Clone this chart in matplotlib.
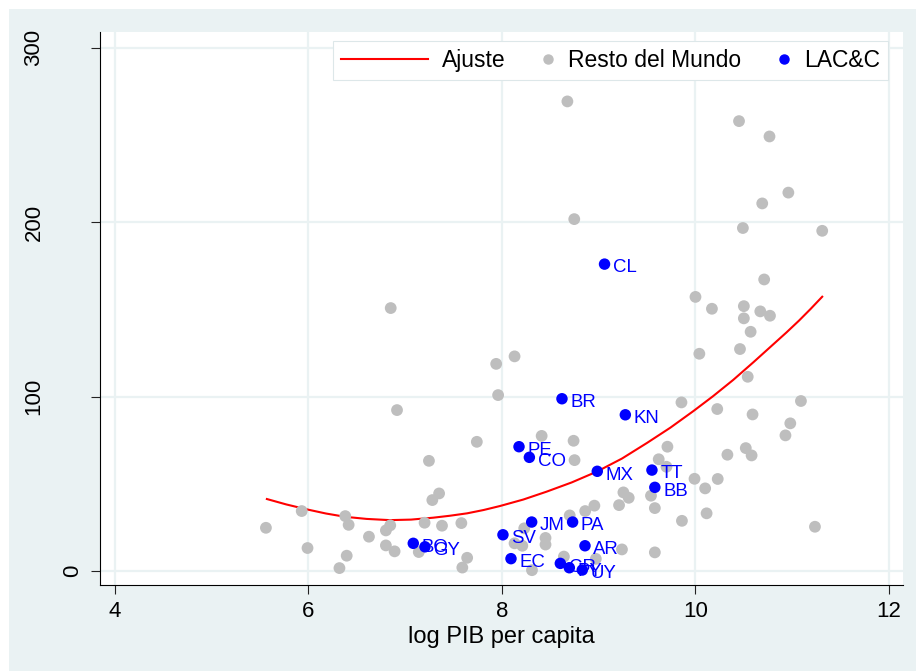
import matplotlib
matplotlib.use("Agg")
import matplotlib.pyplot as plt
from matplotlib.patches import Rectangle
from matplotlib.lines import Line2D
from matplotlib.legend_handler import HandlerBase
import matplotlib.transforms as mtransforms

plt.rcParams['font.family'] = ['Liberation Sans', 'DejaVu Sans']

# ---------------- data ----------------
rest_x = [8.676, 10.45, 10.765, 10.96, 10.69, 8.747, 10.49, 11.31, 10.71, 10.0,
          6.85, 10.17, 10.50, 10.67, 10.77, 10.50, 10.57, 10.46, 10.04, 10.54,
          8.13, 7.94, 7.96, 9.855, 11.09, 10.225, 10.59, 6.915, 10.98, 10.93,
          8.41, 8.74, 7.74, 9.71, 10.52, 10.33, 10.58, 9.62, 8.75, 7.245,
          9.70, 9.99, 10.23, 10.10, 9.255, 7.35, 9.54, 9.31, 7.28, 9.21,
          8.955, 9.58, 5.93, 8.86, 10.115, 8.70, 6.38, 9.86, 7.20, 7.58,
          6.415, 6.845, 7.38, 11.235, 8.23, 5.56, 6.80, 6.625, 8.45, 8.45,
          6.80, 8.13, 8.21, 5.99, 9.24, 6.89, 7.14, 9.58, 6.395, 8.64,
          7.64, 8.97, 6.32, 7.59, 8.31]
rest_y = [269.3, 258.0, 249.2, 217.0, 210.8, 201.8, 196.7, 195.1, 167.2, 157.2,
          150.8, 150.4, 151.9, 148.9, 146.4, 144.9, 137.2, 127.3, 124.6, 111.4,
          123.1, 118.8, 100.9, 96.7, 97.5, 92.9, 89.8, 92.3, 84.7, 77.8,
          77.5, 74.7, 74.1, 71.3, 70.5, 66.7, 66.3, 64.1, 63.6, 63.2,
          59.8, 52.9, 52.8, 47.4, 45.1, 44.5, 43.2, 42.0, 40.7, 37.8,
          37.5, 36.1, 34.4, 34.4, 33.1, 31.9, 31.5, 28.8, 27.7, 27.5,
          26.5, 26.2, 26.0, 25.4, 24.5, 24.8, 23.3, 19.7, 19.0, 15.2,
          14.7, 15.9, 14.5, 13.2, 12.4, 11.3, 10.9, 10.7, 8.8, 8.3,
          7.6, 7.0, 1.7, 2.0, 0.5]

lac_codes = ["CL", "BR", "KN", "PE", "CO", "MX", "TT", "BB", "JM", "PA",
             "SV", "AR", "BO", "GY", "EC", "CR", "PY", "UY"]
lac_x = [9.06, 8.62, 9.275, 8.176, 8.283, 8.985, 9.55, 9.58, 8.307, 8.73,
         8.01, 8.858, 7.083, 7.204, 8.093, 8.603, 8.696, 8.83]
lac_y = [176.0, 98.8, 89.6, 71.3, 65.2, 57.2, 57.9, 48.0, 28.1, 28.1,
         20.8, 14.5, 15.9, 13.9, 7.1, 4.4, 1.9, 0.6]

# fitted curve
fit_x = [5.57, 5.77, 5.98, 6.18, 6.38, 6.60, 6.84, 7.06, 7.29, 7.46, 7.64,
         7.81, 7.98, 8.22, 8.46, 8.72, 8.98, 9.24, 9.50, 9.74, 9.98, 10.18,
         10.39, 10.60, 10.80, 10.94, 11.07, 11.19, 11.31]
fit_y = [41.3, 38.2, 35.4, 33.0, 31.1, 29.9, 29.2, 29.5, 30.6, 31.7, 33.1,
         35.0, 37.3, 41.0, 45.5, 50.8, 57.0, 64.5, 73.5, 82.2, 91.8, 100.2,
         109.6, 119.8, 129.8, 136.8, 143.6, 150.3, 157.3]

x_ticks = [4, 6, 8, 10, 12]
y_ticks = [0, 100, 200, 300]
y_tick_px = [73, 34, 34, 34]   # horizontal centre of rotated y labels (pixels)
x_label = "log PIB per capita"
legend_labels = ["Ajuste", "Resto del Mundo", "LAC&C"]

# ---------------- figure ----------------
W, H = 916, 671
fig = plt.figure(figsize=(W / 100, H / 100), dpi=100)
fig.patch.set_facecolor('white')
BG = '#EAF2F3'
fig.add_artist(Rectangle((9 / W, 0), 1 - 9 / W, 1 - 9 / H, transform=fig.transFigure,
                         facecolor=BG, edgecolor='none', zorder=-10))

ax = fig.add_axes([100 / W, 1 - 585 / H, 803 / W, 553 / H])
ax.set_facecolor('white')
ax.set_xlim(3.845, 12.145)
ax.set_ylim(-8.0, 309.1)

for s in ['top', 'right']:
    ax.spines[s].set_visible(False)
for s in ['left', 'bottom']:
    ax.spines[s].set_color('black')
    ax.spines[s].set_linewidth(0.8)

ax.set_xticks(x_ticks)
ax.set_yticks(y_ticks)
ax.set_yticklabels([])
ax.grid(True, color=BG, linewidth=1.6)
ax.set_axisbelow(True)
ax.tick_params(direction='out', length=6.3, width=0.8, color='#222222',
               labelsize=16, pad=5)

ytrans = mtransforms.blended_transform_factory(fig.transFigure, ax.transData)
for v, px in zip(y_ticks, y_tick_px):
    fig.text(px / W, v, str(v), transform=ytrans, rotation=90, ha='center',
             va='center', fontsize=16)

ax.set_xlabel(x_label, fontsize=17, labelpad=3)

line, = ax.plot(fit_x, fit_y, color='red', linewidth=1.5, zorder=2)
sc_rest = ax.scatter(rest_x, rest_y, s=72, color='#BEBEBE', edgecolors='none', zorder=3)
sc_lac = ax.scatter(lac_x, lac_y, s=68, color='blue', edgecolors='none', zorder=4)

for code, x, y in zip(lac_codes, lac_x, lac_y):
    ax.annotate(code, (x, y), xytext=(6, -6), textcoords='offset points',
                ha='left', va='baseline', color='blue', fontsize=13.4, zorder=5)


class DotRight(HandlerBase):
    def __init__(self, color, ms, inset):
        super().__init__()
        self.color, self.ms, self.inset = color, ms, inset

    def create_artists(self, legend, orig_handle, xdescent, ydescent, width,
                       height, fontsize, trans):
        x = width - xdescent - self.inset
        y = (height - ydescent) / 2
        ln = Line2D([x], [y], marker='o', linestyle='none', markersize=self.ms,
                    markerfacecolor=self.color, markeredgecolor=self.color)
        ln.set_transform(trans)
        return [ln]


leg = ax.legend([line, sc_rest, sc_lac], legend_labels, ncol=3,
                loc='upper left', bbox_to_anchor=(333 / W, 1 - 40.7 / H),
                bbox_transform=fig.transFigure, borderaxespad=0,
                fontsize=16.5, handlelength=3.8, handletextpad=0.61,
                columnspacing=-1.69, borderpad=0.36, fancybox=False,
                frameon=True, framealpha=1,
                handler_map={sc_rest: DotRight('#BEBEBE', 6.5, 4.3),
                             sc_lac: DotRight('blue', 6.5, 4.3)})
leg.get_frame().set_facecolor('white')
leg.get_frame().set_edgecolor('#DDE7E9')
leg.get_frame().set_linewidth(0.8)
leg.set_zorder(10)

fig.savefig('out.png', dpi=100, facecolor=fig.get_facecolor())
